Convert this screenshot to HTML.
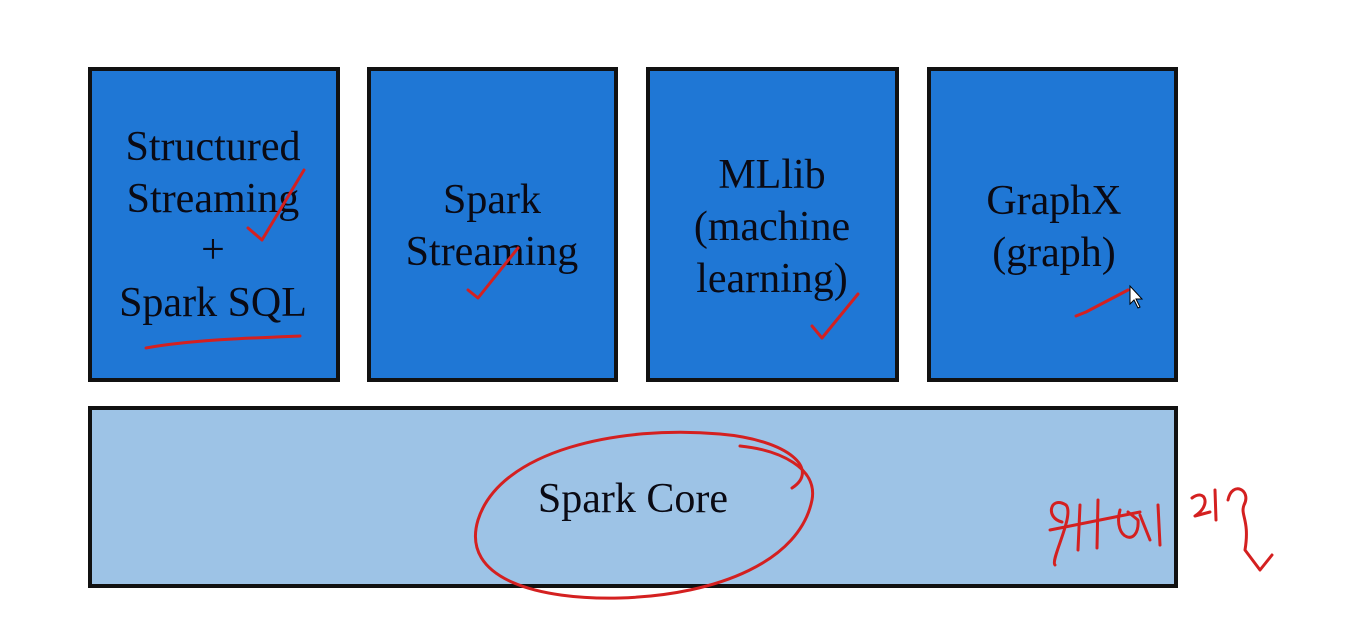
<!DOCTYPE html>
<html><head><style>
body{margin:0;background:#fff;width:1368px;height:632px;overflow:hidden}
text{font-family:"Liberation Serif",serif;font-size:42px;fill:#0a0a14;text-anchor:middle}
</style></head><body>
<svg width="1368" height="632" viewBox="0 0 1368 632">
<g fill="#1f77d5" stroke="#111" stroke-width="4">
<rect x="90" y="69" width="248" height="311"/>
<rect x="369" y="69" width="247" height="311"/>
<rect x="648" y="69" width="249" height="311"/>
<rect x="929" y="69" width="247" height="311"/>
<rect x="90" y="408" width="1086" height="178" fill="#9dc3e6"/>
</g>
<text x="213" y="160">Structured</text>
<text x="213" y="212">Streaming</text>
<text x="213" y="263">+</text>
<text x="213" y="316">Spark SQL</text>
<text x="492" y="213">Spark</text>
<text x="492" y="265">Streaming</text>
<text x="772" y="188">MLlib</text>
<text x="772" y="240">(machine</text>
<text x="772" y="292">learning)</text>
<text x="1054" y="214">GraphX</text>
<text x="1054" y="266">(graph)</text>
<text x="633" y="512">Spark Core</text>
<g fill="none" stroke="#d42020" stroke-width="3" stroke-linecap="round" stroke-linejoin="round">
<path d="M248 228 L262 240 L304 170"/>
<path d="M146 348 C190 340 250 338 300 336"/>
<path d="M468 290 L478 298 L518 248"/>
<path d="M812 326 L822 338 L858 294"/>
<path d="M1076 316 L1086 312 L1128 290"/>
<path d="M792 488 C820 470 790 440 720 434 C620 425 500 450 478 520 C460 580 540 600 620 598 C720 595 800 560 812 500 C818 468 780 450 740 446"/>
<path d="M1062 522 C1045 518 1050 495 1066 505 C1075 515 1050 560 1055 565 M1050 530 L1140 512 M1080 505 L1078 550 M1098 500 L1097 548 M1120 510 C1112 540 1140 548 1138 520 L1128 512 M1140 515 L1150 540 M1158 505 L1160 545 M1192 498 C1205 488 1212 505 1195 516 L1210 512 M1215 490 L1216 520 M1228 500 C1232 480 1252 490 1244 505 C1240 515 1250 520 1245 550 L1260 570 L1272 555"/>
</g>
<path d="M1130 286 L1130 304 L1134 300 L1138 308 L1140 307 L1136 299 L1142 299 Z" fill="#fff" stroke="#000" stroke-width="1"/>
</svg>
</body></html>
